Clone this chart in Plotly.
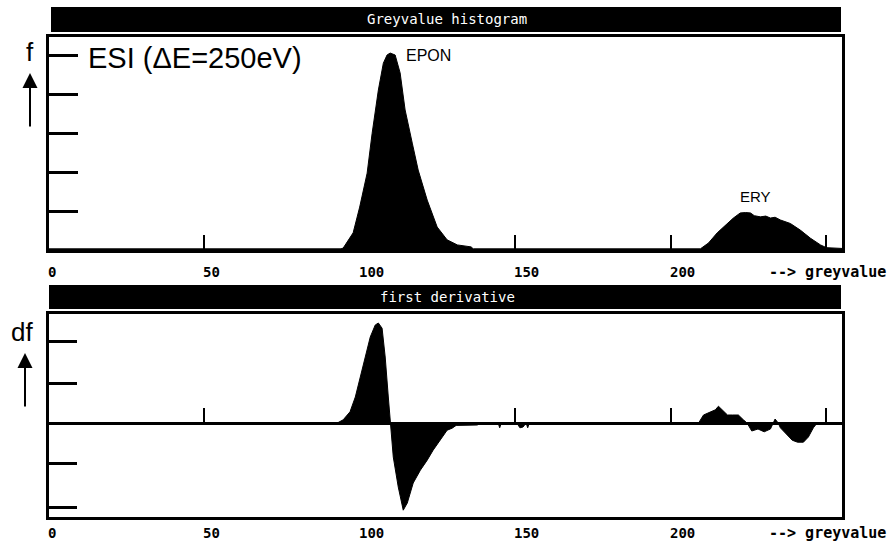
import plotly.graph_objects as go

W, H = 888, 547

# ---- data ----
hist_grey = [0, 94, 94.7, 96, 97.9, 100, 102.4, 104.0, 106.0, 107.6, 108.8, 109.8, 111.4,
             113.0, 114.6, 116.9, 118.8, 121.7, 124.9, 128.1, 131.4, 135.8, 136.5,
             209.5, 212.1, 214.9, 217.5, 220.1, 222.3, 224.0, 225.6, 226.8, 228.8, 230.5,
             232.0, 233.5, 235.2, 238.4, 241.6, 244.9, 248.1, 250, 255]
hist_freq = [0.03, 0.03, 0.05, 0.2, 0.44, 1.1, 1.97, 2.99, 4.10, 4.79, 5.0, 5.05, 5.0,
             4.54, 3.59, 2.74, 2.05, 1.28, 0.59, 0.26, 0.13, 0.08, 0.03,
             0.03, 0.18, 0.44, 0.64, 0.82, 0.95, 0.96, 0.95, 0.88, 0.85, 0.87,
             0.82, 0.84, 0.77, 0.68, 0.51, 0.30, 0.13, 0.06, 0.04]

der_grey = [0, 92.8, 94.7, 96.9, 98.6, 100.2, 101.8, 103.4, 105.0, 106.0, 107.2, 108.2,
            109.2, 109.8, 110.8, 112.4, 113.7, 114.0, 115.3, 117.2, 119.5, 121.7, 123.6,
            125.9, 128.1, 129.7, 131, 137.8, 138.5, 144.5, 145, 145.5, 150.5, 151.5,
            152.5, 153.5, 154, 154.5, 208.9, 210.5, 212.1, 213.3, 214.3, 215.3, 216.5,
            218.2, 219.8, 221.7, 223.3, 224.5, 226, 228, 230, 232, 233.5, 234.5, 235.2,
            237.5, 239, 240.7, 242.6, 244.2, 245.8, 247, 255]
der_val = [0, 0, 0.08, 0.28, 0.65, 1.15, 1.65, 2.15, 2.45, 2.5, 2.37, 1.65,
           0.65, 0, -0.85, -1.6, -2.1, -2.18, -2.0, -1.5, -1.18, -0.93, -0.68,
           -0.43, -0.18, -0.13, -0.06, -0.05, 0, 0, -0.12, 0, 0, -0.12,
           -0.1, 0, -0.12, 0, 0, 0.2, 0.25, 0.28, 0.33, 0.42, 0.33,
           0.2, 0.2, 0.2, 0.08, 0, -0.2, -0.15, -0.22, -0.15, 0.1, 0, -0.12,
           -0.3, -0.43, -0.48, -0.48, -0.35, -0.12, 0, 0]

x_tick_vals = [0, 50, 100, 150, 200, 250]
x_label_vals = [0, 50, 100, 150, 200]
x_label_text = ["0", "50", "100", "150", "200"]
f_tick_vals = [1, 2, 3, 4, 5]
df_tick_vals = [2.03, 1, -1, -2.1]

# ---- helpers for pixel -> paper ----
def px(x):
    return x / W

def py(y):
    return 1 - y / H

X0, X1 = 48.5, 842
TOP_Y0, TOP_Y1 = 37, 250
BOT_Y0, BOT_Y1 = 314, 517
ZERO_Y = 423

fig = go.Figure()
fig.add_trace(go.Scatter(x=hist_grey, y=hist_freq, mode="lines", fill="tozeroy",
                         fillcolor="black", line=dict(color="black", width=1),
                         xaxis="x", yaxis="y", hoverinfo="skip", showlegend=False))
fig.add_trace(go.Scatter(x=der_grey, y=der_val, mode="lines", fill="tozeroy",
                         fillcolor="black", line=dict(color="black", width=1),
                         xaxis="x2", yaxis="y2", hoverinfo="skip", showlegend=False))
# invisible trace so the zero-line tick axis renders
fig.add_trace(go.Scatter(x=[None], y=[None], xaxis="x3", yaxis="y2",
                         showlegend=False, hoverinfo="skip"))

common_x = dict(range=[0, 255], showgrid=False, zeroline=False, showticklabels=False,
                linecolor="black", linewidth=3, showline=True, mirror=True)

top_range = (TOP_Y1 - TOP_Y0) / 39.0
bot_hi = (ZERO_Y - BOT_Y0) / 40.0
bot_lo = -(BOT_Y1 - ZERO_Y) / 40.0

fig.update_layout(
    width=W, height=H,
    margin=dict(l=0, r=0, t=0, b=0),
    paper_bgcolor="white", plot_bgcolor="white",
    showlegend=False,
    xaxis=dict(domain=[px(X0), px(X1)], anchor="y", ticks="inside", tickvals=x_tick_vals,
               ticklen=15, tickwidth=2, tickcolor="black", **common_x),
    yaxis=dict(domain=[py(TOP_Y1), py(TOP_Y0)], anchor="x", range=[0, top_range],
               showgrid=False, zeroline=False, showticklabels=False, showline=True,
               mirror=True, linecolor="black", linewidth=3, ticks="inside",
               tickvals=f_tick_vals, ticklen=29, tickwidth=2.5, tickcolor="black"),
    xaxis2=dict(domain=[px(X0), px(X1)], anchor="y2", ticks="", **common_x),
    yaxis2=dict(domain=[py(BOT_Y1), py(BOT_Y0)], anchor="x2", range=[bot_lo, bot_hi],
                showgrid=False, showticklabels=False, showline=True, mirror=True,
                linecolor="black", linewidth=3, ticks="inside", tickvals=df_tick_vals,
                ticklen=28, tickwidth=2.5, tickcolor="black",
                zeroline=True, zerolinecolor="black", zerolinewidth=3),
    xaxis3=dict(overlaying="x2", anchor="free", position=py(ZERO_Y), side="bottom",
                range=[0, 255], showgrid=False, zeroline=False, showline=False,
                showticklabels=False, ticks="inside", tickvals=x_tick_vals, ticklen=15,
                tickwidth=2, tickcolor="black"),
)

# title bars
shapes = [
    dict(type="rect", xref="paper", yref="paper", x0=px(51), x1=px(841), y0=py(32), y1=py(7),
         fillcolor="black", line=dict(width=0)),
    dict(type="rect", xref="paper", yref="paper", x0=px(49), x1=px(841), y0=py(309), y1=py(285),
         fillcolor="black", line=dict(width=0)),
]
fig.update_layout(shapes=shapes)

mono = "DejaVu Sans Mono"
sans = "Liberation Sans, Arial, sans-serif"
ann = []
ann.append(dict(text="Greyvalue histogram", xref="paper", yref="paper", x=px(447), y=py(19.5),
                showarrow=False, xanchor="center", yanchor="middle",
                font=dict(family=mono, size=14, color="white")))
ann.append(dict(text="first derivative", xref="paper", yref="paper", x=px(447), y=py(297),
                showarrow=False, xanchor="center", yanchor="middle",
                font=dict(family=mono, size=14, color="white")))

for xr, ylab in (("x", 272), ("x2", 533)):
    for v, t in zip(x_label_vals, x_label_text):
        ann.append(dict(text="<b>%s</b>" % t, xref=xr, yref="paper", x=v, y=py(ylab),
                        showarrow=False, xanchor="left", yanchor="middle", xshift=-3,
                        font=dict(family=mono, size=14, color="black")))
    ann.append(dict(text="<b>--> greyvalue</b>", xref="paper", yref="paper", x=px(767),
                    y=py(ylab), showarrow=False, xanchor="left", yanchor="middle",
                    font=dict(family=mono, size=15, color="black")))

ann.append(dict(text="f", xref="paper", yref="paper", x=px(30), y=py(52), showarrow=False,
                xanchor="center", yanchor="middle", font=dict(family=sans, size=26, color="black")))
ann.append(dict(text="df", xref="paper", yref="paper", x=px(22), y=py(332), showarrow=False,
                xanchor="center", yanchor="middle", font=dict(family=sans, size=26, color="black")))
ann.append(dict(text="", xref="paper", yref="paper", x=px(30), y=py(73),
                axref="pixel", ayref="pixel", ax=0, ay=55, showarrow=True,
                arrowhead=2, arrowsize=1.5, arrowwidth=2, arrowcolor="black", standoff=0))
ann.append(dict(text="", xref="paper", yref="paper", x=px(25), y=py(353),
                axref="pixel", ayref="pixel", ax=0, ay=55, showarrow=True,
                arrowhead=2, arrowsize=1.5, arrowwidth=2, arrowcolor="black", standoff=0))
ann.append(dict(text="ESI (\u0394E=250eV)", xref="paper", yref="paper", x=px(86), y=py(58),
                showarrow=False, xanchor="left", yanchor="middle",
                font=dict(family=sans, size=29, color="black")))
ann.append(dict(text="EPON", xref="paper", yref="paper", x=px(404), y=py(55),
                showarrow=False, xanchor="left", yanchor="middle",
                font=dict(family=sans, size=16, color="black")))
ann.append(dict(text="ERY", xref="paper", yref="paper", x=px(738), y=py(196),
                showarrow=False, xanchor="left", yanchor="middle",
                font=dict(family=sans, size=15, color="black")))
fig.update_layout(annotations=ann)

fig.write_html("out.html")
